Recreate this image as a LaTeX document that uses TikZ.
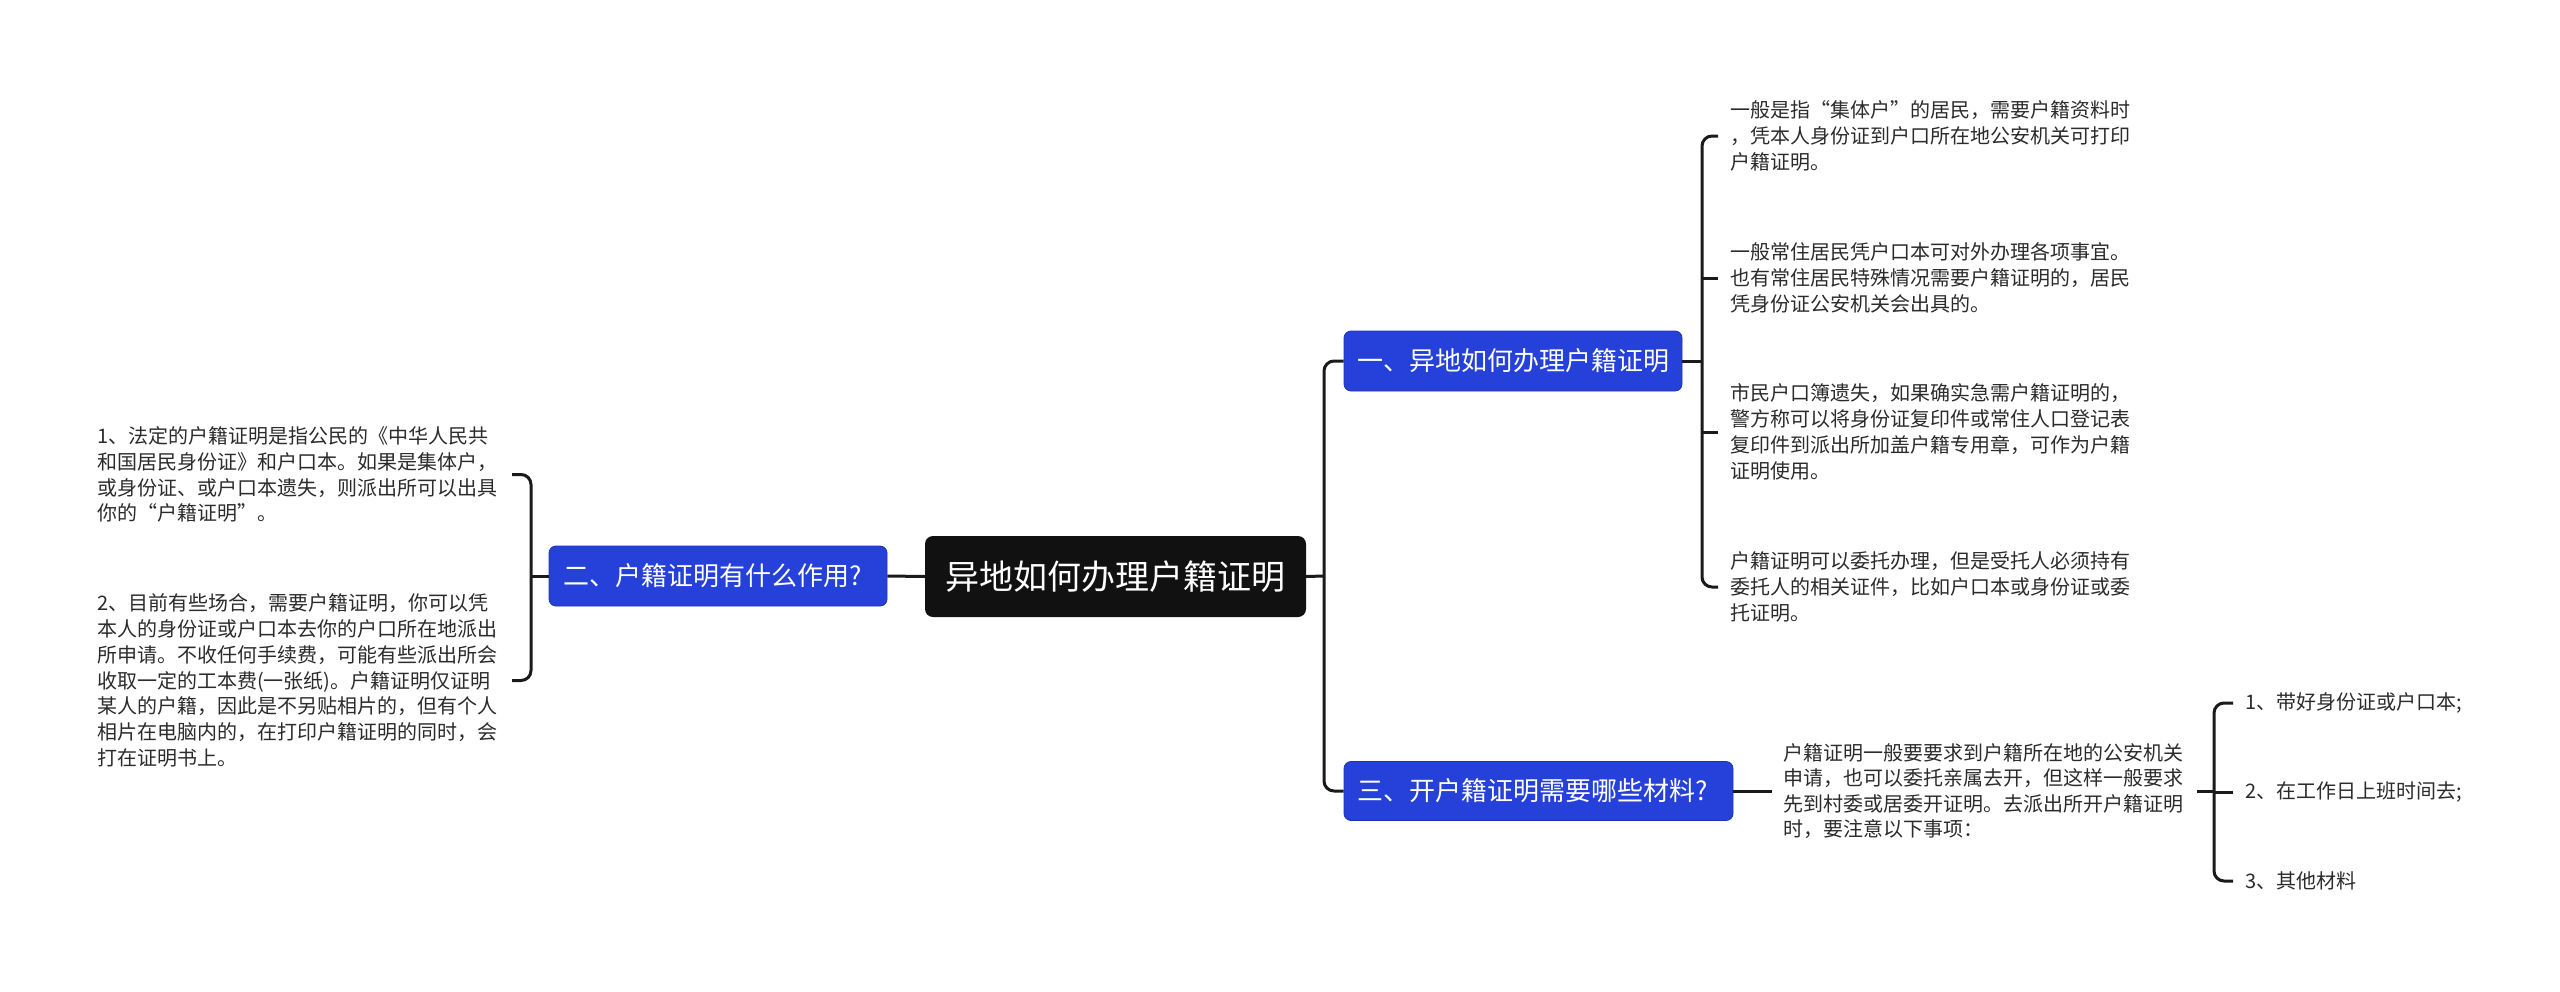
\documentclass[tikz,border=0pt]{standalone}
\usepackage{fontspec}
\setmainfont{Noto Sans CJK SC}
\definecolor{blueb}{HTML}{2641D9}
\definecolor{rootc}{HTML}{111111}
\definecolor{linec}{HTML}{1A1A1A}
\definecolor{txtc}{HTML}{2B2B2B}
\begin{document}
\begin{tikzpicture}[x=1pt,y=-1pt,
  conn/.style={draw=linec, line width=3pt},
  bra/.style={conn, rounded corners=10pt},
  topic/.style={fill=blueb, draw=blueb!80!black, line width=0.8pt, rounded corners=7pt, text=white,
    font=\fontsize{26}{30}\selectfont, minimum height=60pt, inner ysep=0pt},
  leafA/.style={anchor=west, align=left, inner sep=0pt, text=txtc, font=\fontsize{20}{25.9}\selectfont},
  leafC/.style={anchor=west, align=left, inner sep=0pt, text=txtc, font=\fontsize{20}{25.3}\selectfont}]
\useasboundingbox (0,0) rectangle (2560,991);

% root
\node[fill=rootc, rounded corners=8pt, minimum width=381pt, minimum height=81pt, inner sep=0pt,
  text=white, font=\fontsize{34}{40}\selectfont] (root) at (1115.5,576.5) {异地如何办理户籍证明};

% topics
\node[topic, text width=310pt, align=left, inner xsep=14pt] (n2) at (718,576) {二、户籍证明有什么作用?};
\node[topic, minimum width=338pt, inner xsep=0pt] (n1) at (1513,361) {一、异地如何办理户籍证明};
\node[topic, text width=363pt, align=left, inner xsep=13pt, minimum height=59pt] (n3) at (1538.5,791) {三、开户籍证明需要哪些材料?};

% left leaves
\node[leafA] (L1) at (97,474.5) {1、法定的户籍证明是指公民的《中华人民共\\和国居民身份证》和户口本。如果是集体户，\\或身份证、或户口本遗失，则派出所可以出具\\你的“户籍证明”。};
\node[leafA] (L2) at (97,680.5) {2、目前有些场合，需要户籍证明，你可以凭\\本人的身份证或户口本去你的户口所在地派出\\所申请。不收任何手续费，可能有些派出所会\\收取一定的工本费(一张纸)。户籍证明仅证明\\某人的户籍，因此是不另贴相片的，但有个人\\相片在电脑内的，在打印户籍证明的同时，会\\打在证明书上。};

% right leaves of topic 1
\node[leafA] (R1) at (1730,136) {一般是指“集体户”的居民，需要户籍资料时\\，凭本人身份证到户口所在地公安机关可打印\\户籍证明。};
\node[leafA] (R2) at (1730,278) {一般常住居民凭户口本可对外办理各项事宜。\\也有常住居民特殊情况需要户籍证明的，居民\\凭身份证公安机关会出具的。};
\node[leafA] (R3) at (1730,432) {市民户口簿遗失，如果确实急需户籍证明的，\\警方称可以将身份证复印件或常住人口登记表\\复印件到派出所加盖户籍专用章，可作为户籍\\证明使用。};
\node[leafA] (R4) at (1730,587) {户籍证明可以委托办理，但是受托人必须持有\\委托人的相关证件，比如户口本或身份证或委\\托证明。};

% topic 3 text and its leaves
\node[leafC] (T) at (1783,791) {户籍证明一般要要求到户籍所在地的公安机关\\申请，也可以委托亲属去开，但这样一般要求\\先到村委或居委开证明。去派出所开户籍证明\\时，要注意以下事项：};
\node[leafC] (F1) at (2245,703) {1、带好身份证或户口本;};
\node[leafC] (F2) at (2245,792) {2、在工作日上班时间去;};
\node[leafC] (F3) at (2245,881) {3、其他材料};

% junction coordinates
\coordinate (lj) at (531,576);
\coordinate (rj) at (1324,576);
\coordinate (aj) at (1702,361);
\coordinate (bj) at (2214,791);

% connectors: left
\draw[conn] (root.west) -- (n2.east);
\draw[conn] (n2.west) -- (lj);
\draw[bra] ([xshift=415pt]L1.west) -- (lj |- L1.west) -- (lj |- L2.west) -- ([xshift=415pt]L2.west);

% connectors: right trunk
\draw[conn] (root.east) -- (rj);
\draw[bra] (n1.west) -- (rj |- n1.west) -- (rj |- n3.west) -- (n3.west);

% topic 1 leaves
\draw[conn] (n1.east) -- (aj);
\draw[bra] ([xshift=-12pt]R1.west) -- (aj |- R1.west) -- (aj |- R4.west) -- ([xshift=-12pt]R4.west);
\draw[conn] ([xshift=-12pt]R2.west) -- (aj |- R2.west);
\draw[conn] ([xshift=-12pt]R3.west) -- (aj |- R3.west);

% topic 3
\draw[conn] (n3.east) -- ([xshift=-11pt]T.west |- n3.east);
\draw[conn] ([xshift=414pt]T.west |- n3.east) -- (bj);
\draw[bra] ([xshift=-12pt]F1.west) -- (bj |- F1.west) -- (bj |- F3.west) -- ([xshift=-12pt]F3.west);
\draw[conn] ([xshift=-12pt]F2.west) -- (bj |- F2.west);
\end{tikzpicture}
\end{document}
